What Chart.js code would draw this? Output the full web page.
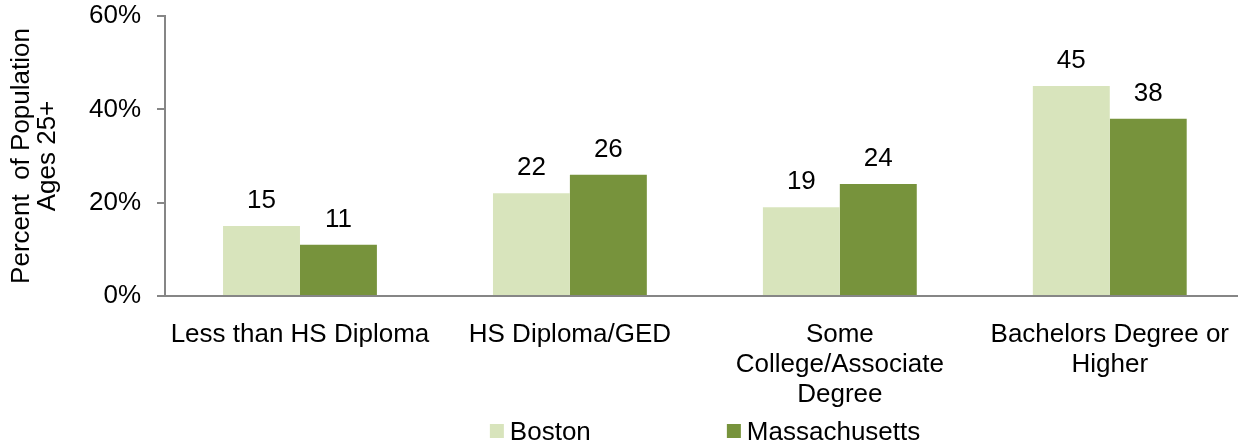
<!DOCTYPE html>
<html>
<head>
<meta charset="utf-8">
<script src="https://cdn.jsdelivr.net/npm/chart.js@4/dist/chart.umd.min.js"></script>
<style>
  html, body { margin: 0; padding: 0; background: #fff; overflow: hidden; }
  #wrap { width: 1245px; height: 447px; position: relative; }
</style>
</head>
<body>
<div id="wrap"><canvas id="myChart"></canvas></div>
<script>
'use strict';

let categories = [
  'Less than HS Diploma',
  'HS Diploma/GED',
  ['Some', 'College/Associate', 'Degree'],
  ['Bachelors Degree or', 'Higher']
];
let bostonValues = [15, 22, 19, 45];
let massValues = [11, 26, 24, 38];
let yTicks = [0, 20, 40, 60];

let fontName = '"Liberation Sans", Arial, Helvetica, sans-serif';

// numbers above each bar
let barLabels = {
  id: 'barLabels',
  afterDatasetsDraw(chart) {
    let ctx = chart.ctx;
    ctx.save();
    ctx.font = '26px ' + fontName;
    ctx.fillStyle = '#000';
    ctx.textAlign = 'center';
    ctx.textBaseline = 'alphabetic';
    chart.data.datasets.forEach(function (ds, i) {
      chart.getDatasetMeta(i).data.forEach(function (bar, j) {
        ctx.fillText(ds.data[j], bar.x, bar.y - 18);
      });
    });
    ctx.restore();
  }
};

// legend drawn at the bottom, spaced like the original
let bottomLegend = {
  id: 'bottomLegend',
  afterDraw(chart) {
    let ctx = chart.ctx;
    let area = chart.chartArea;
    let mid = (area.left + area.right) / 2;
    let y = 431;
    ctx.save();
    ctx.font = '26px ' + fontName;
    ctx.textBaseline = 'alphabetic';
    ctx.textAlign = 'left';
    chart.data.datasets.forEach(function (ds, i) {
      let x = mid - 215 + i * 237;
      ctx.fillStyle = ds.backgroundColor;
      ctx.fillRect(x, y - 7, 14, 14);
      ctx.fillStyle = '#000';
      ctx.fillText(ds.label, x + 20, y + 9);
    });
    ctx.restore();
  }
};

let ctx = document.getElementById('myChart').getContext('2d');
let chart = new Chart(ctx, {
  type: 'bar',
  data: {
    labels: categories,
    datasets: [{
      label: 'Boston',
      backgroundColor: '#d8e4bc',
      data: bostonValues,
      barPercentage: 1,
      categoryPercentage: 0.57
    }, {
      label: 'Massachusetts',
      backgroundColor: '#77933c',
      data: massValues,
      barPercentage: 1,
      categoryPercentage: 0.57
    }]
  },
  options: {
    responsive: true,
    maintainAspectRatio: false,
    animation: false,
    layout: { padding: { top: 16, bottom: 0, right: 0, left: 0 } },
    plugins: {
      legend: { display: false },
      tooltip: { enabled: false }
    },
    scales: {
      x: {
        grid: { display: false },
        border: { display: true, color: '#868686', width: 2 },
        ticks: {
          color: '#000',
          font: { family: fontName, size: 26, lineHeight: 1.15 },
          padding: 16,
          maxRotation: 0,
          autoSkip: false
        },
        afterFit(scale) { scale.height = 151; }
      },
      y: {
        min: 0,
        max: 60,
        afterBuildTicks(scale) {
          scale.ticks = yTicks.map(function (v) { return { value: v }; });
        },
        grid: { drawOnChartArea: false, tickLength: 8, color: '#868686', lineWidth: 2 },
        border: { display: true, color: '#868686', width: 2 },
        ticks: {
          color: '#000',
          font: { family: fontName, size: 26 },
          padding: 16,
          callback: function (v) { return v + '%'; }
        },
        title: {
          display: true,
          text: ['Percent  of Population', 'Ages 25+'],
          color: '#000',
          font: { family: fontName, size: 26, lineHeight: 1.0 },
          padding: { top: 9, bottom: 4 }
        },
        afterFit(scale) {
          scale.width = 165;
          scale.paddingTop = 0;
          scale.paddingBottom = 0;
        }
      }
    }
  },
  plugins: [barLabels, bottomLegend]
});
</script>
</body>
</html>
